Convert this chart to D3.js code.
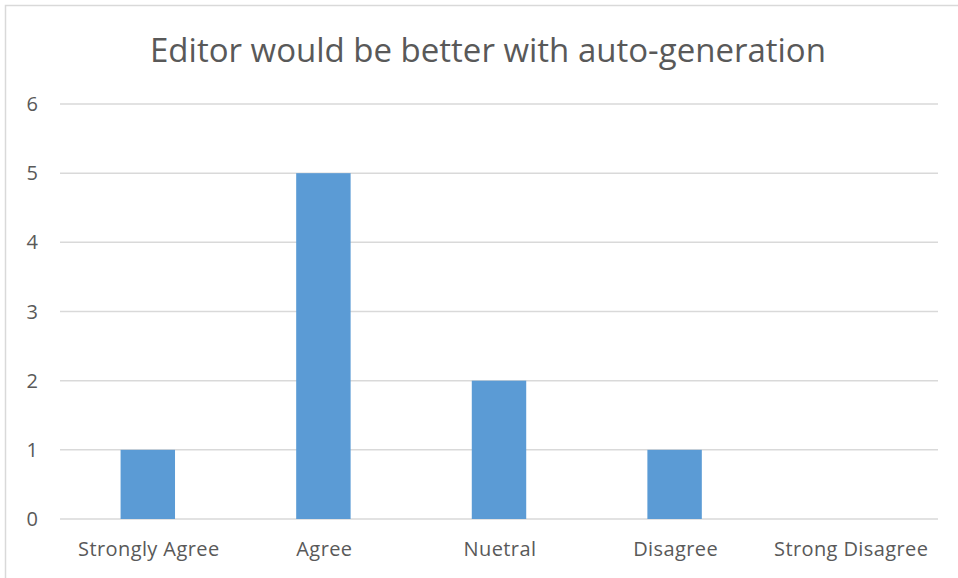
<!DOCTYPE html>
<meta charset="utf-8">
<title>Editor would be better with auto-generation</title>
<style>
  body { margin: 0; background: #fff; }
  text { font-family: "Open Sans", Lato, sans-serif; fill: #595959; }
</style>
<body>
<script src="https://d3js.org/d3.v7.min.js"></script>
<div id="chart"></div>
<script>
// data
var categories = ["Strongly Agree", "Agree", "Nuetral", "Disagree", "Strong Disagree"];
var counts = [1, 5, 2, 1, 0];
var yTicks = [0, 1, 2, 3, 4, 5, 6];
var title = "Editor would be better with auto-generation";

var W = 958, H = 578;
var margin = {top: 104, right: 20, bottom: 59, left: 60},
    width = 938 - margin.left,
    height = 519 - margin.top;

var svg = d3.select("#chart").append("svg")
    .attr("width", W)
    .attr("height", H);

// chart border
svg.append("rect")
    .attr("x", 5.5).attr("y", 5.5)
    .attr("width", W + 10).attr("height", H + 10)
    .attr("fill", "none")
    .attr("stroke", "#d9d9d9")
    .attr("stroke-width", 1.5);

svg.append("text")
    .attr("x", 488)
    .attr("y", 62)
    .attr("text-anchor", "middle")
    .style("font-size", "33px")
    .text(title);

var g = svg.append("g")
    .attr("transform", "translate(" + margin.left + "," + margin.top + ")");

var x = d3.scaleBand()
    .domain(categories)
    .range([0, width])
    .padding(0);

var y = d3.scaleLinear()
    .domain([0, 6])
    .range([height, 0]);

// gridlines + y labels
g.append("g")
  .selectAll("line")
  .data(yTicks)
  .enter().append("line")
    .attr("x1", 0).attr("x2", width)
    .attr("y1", d => y(d)).attr("y2", d => y(d))
    .attr("stroke", "#d9d9d9")
    .attr("stroke-width", 1.5);

g.append("g")
  .selectAll("text")
  .data(yTicks)
  .enter().append("text")
    .attr("x", -22)
    .attr("y", d => y(d))
    .attr("dy", "0.35em")
    .attr("text-anchor", "end")
    .style("font-size", "20px")
    .text(d => d);

// bars
var barW = x.bandwidth() * 0.31;
g.selectAll("rect")
  .data(counts)
  .enter().append("rect")
    .attr("x", (d, i) => x(categories[i]) + (x.bandwidth() - barW) / 2)
    .attr("y", d => y(d))
    .attr("width", barW)
    .attr("height", d => height - y(d))
    .attr("fill", "#5b9bd5");

// x labels
g.append("g")
  .selectAll("text")
  .data(categories)
  .enter().append("text")
    .attr("x", d => x(d) + x.bandwidth() / 2 + 1)
    .attr("y", height + 30)
    .attr("dy", "0.35em")
    .attr("text-anchor", "middle")
    .style("font-size", "20px")
    .style("letter-spacing", "0.4px")
    .text(d => d);
</script>
</body>
